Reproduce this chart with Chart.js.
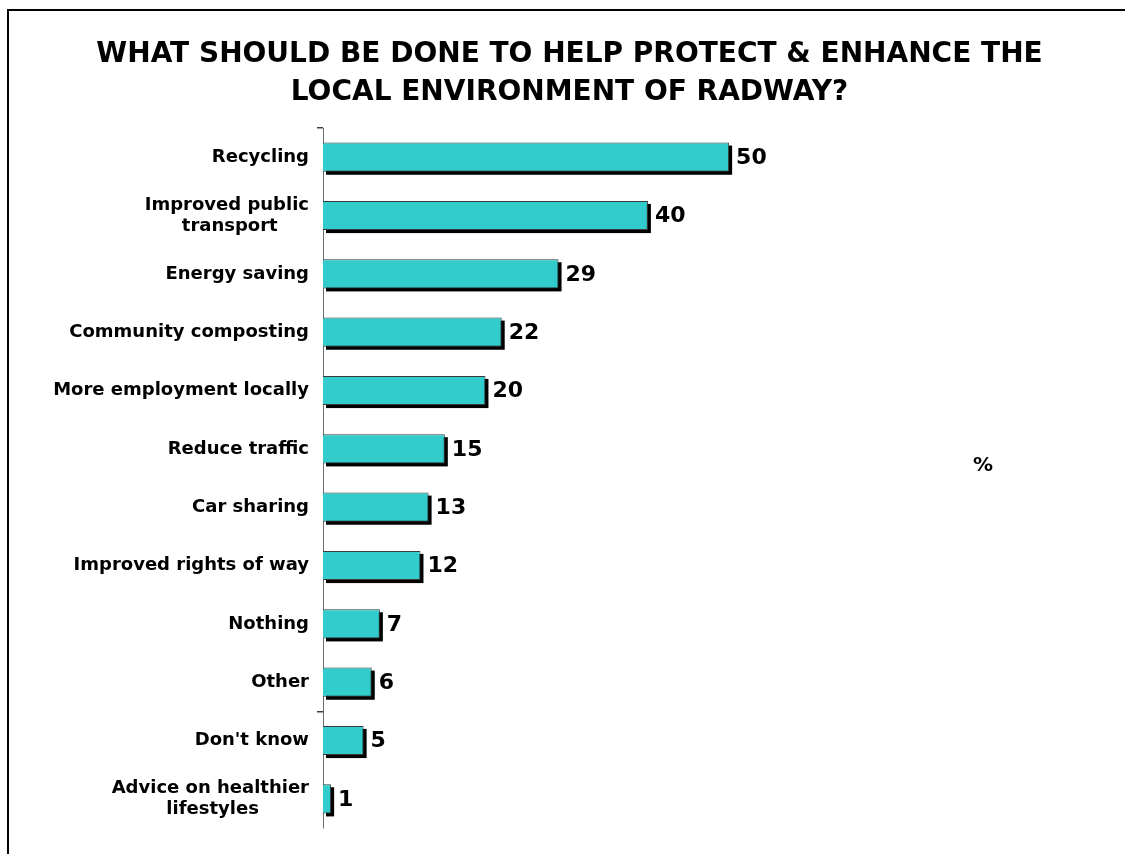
<!DOCTYPE html>
<html>
<head>
<meta charset="utf-8">
<script src="https://cdn.jsdelivr.net/npm/chart.js@4/dist/chart.umd.min.js"></script>
<style>
  body { margin: 0; background: #fff; overflow: hidden; }
  #frame { position: absolute; left: 7px; top: 9px; width: 2000px; height: 2000px; border-left: 2px solid #000; border-top: 2px solid #000; }
  #wrap { position: absolute; left: 0; top: 0; width: 1125px; height: 854px; }
</style>
</head>
<body>
<div id="frame"></div>
<div id="wrap"><canvas id="myChart"></canvas></div>
<script>
var titleLines = ['WHAT SHOULD BE DONE TO HELP PROTECT & ENHANCE THE', 'LOCAL ENVIRONMENT OF RADWAY?']
var categories = [
  'Recycling',
  ['Improved public', 'transport'],
  'Energy saving',
  'Community composting',
  'More employment locally',
  'Reduce traffic',
  'Car sharing',
  'Improved rights of way',
  'Nothing',
  'Other',
  "Don't know",
  ['Advice on healthier', 'lifestyles']
]
var values = [50, 40, 29, 22, 20, 15, 13, 12, 7, 6, 5, 1]
var unitLabel = '%'

var fontFamily = '"DejaVu Sans", Verdana, sans-serif'
var labelFont = 'bold 18px ' + fontFamily

// pad the shorter lines of a two-line label so they look centred under the longest one
var measureCtx = document.createElement('canvas').getContext('2d')
measureCtx.font = labelFont
function centreLines(lines) {
  if (!Array.isArray(lines)) return lines
  var widths = lines.map(l => measureCtx.measureText(l).width)
  var maxW = Math.max.apply(null, widths)
  var spaceW = measureCtx.measureText(' ').width
  return lines.map((l, i) => l + ' '.repeat(Math.round((maxW - widths[i]) / 2 / spaceW)))
}

// hard black drop shadow behind each bar, taken from the bar elements
var barShadow = {
  id: 'barShadow',
  beforeDatasetsDraw(chart) {
    var ctx = chart.ctx
    var meta = chart.getDatasetMeta(0)
    ctx.save()
    ctx.fillStyle = '#000'
    meta.data.forEach(bar => {
      var h = bar.height
      ctx.fillRect(bar.base + 3, bar.y - h / 2 + 3, bar.x - bar.base, h)
    })
    ctx.restore()
  }
}

// value labels at the end of each bar + the % marker
var valueLabels = {
  id: 'valueLabels',
  afterDatasetsDraw(chart) {
    var ctx = chart.ctx
    var meta = chart.getDatasetMeta(0)
    ctx.save()
    ctx.fillStyle = '#000'
    ctx.font = 'bold 22px ' + fontFamily
    ctx.textAlign = 'left'
    ctx.textBaseline = 'middle'
    meta.data.forEach((bar, i) => {
      ctx.fillText(values[i], bar.x + 7, bar.y + 1)
    })
    ctx.font = 'bold 20px ' + fontFamily
    ctx.textAlign = 'center'
    ctx.fillText(unitLabel, 983, 466)
    ctx.restore()
  }
}

const ctx = document.getElementById('myChart')
new Chart(ctx, {
  type: 'bar',
  data: {
    labels: categories,
    datasets: [{
      data: values,
      backgroundColor: '#33CCCC',
      borderColor: '#3a3a3a',
      borderWidth: 1,
      barPercentage: 0.5,
      categoryPercentage: 1
    }]
  },
  options: {
    indexAxis: 'y',
    responsive: true,
    maintainAspectRatio: false,
    animation: false,
    layout: { padding: { left: 20, right: 6, top: 0, bottom: 26 } },
    plugins: {
      legend: { display: false },
      tooltip: { enabled: false },
      title: {
        display: true,
        text: titleLines,
        color: '#000',
        font: { family: fontFamily, size: 28, weight: 'bold', lineHeight: 38 / 28 },
        padding: { top: 36, bottom: 16 }
      }
    },
    scales: {
      x: {
        display: false,
        min: 0,
        max: 98
      },
      y: {
        afterFit(scale) { scale.width = 303 },
        border: { display: true, color: '#6e6e6e', width: 1 },
        grid: {
          offset: true,
          drawOnChartArea: false,
          drawTicks: true,
          tickLength: 6,
          lineWidth: 1.5,
          color: c => (c.index === 0 || c.index === 10) ? '#404040' : 'rgba(0,0,0,0)'
        },
        ticks: {
          color: '#000',
          padding: 8,
          font: { family: fontFamily, size: 18, weight: 'bold', lineHeight: 1.15 },
          callback: function (value) { return centreLines(this.getLabelForValue(value)) }
        }
      }
    }
  },
  plugins: [barShadow, valueLabels]
})
</script>
</body>
</html>
